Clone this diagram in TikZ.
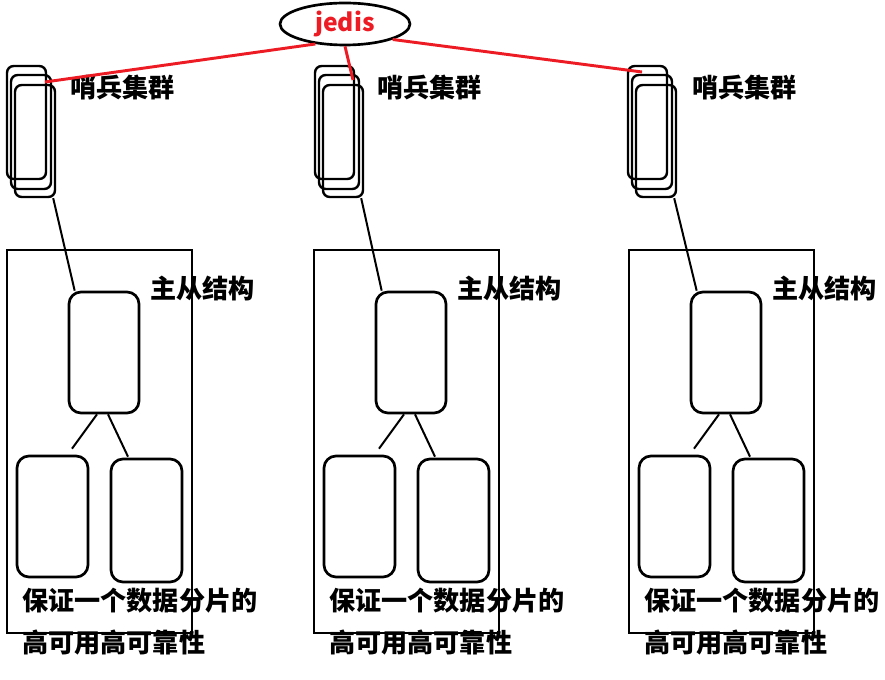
\documentclass[tikz,border=0pt]{standalone}
\usepackage{fontspec}
\newfontfamily\cjk{Noto Sans CJK SC}
\usetikzlibrary{shapes.geometric,calc}
\definecolor{pred}{RGB}{237,28,36}
\tikzset{
  box/.style={draw, line width=2pt, rounded corners=9pt, inner sep=0pt},
  sent/.style={draw, line width=1.8pt, rounded corners=5pt},
  conn/.style={line width=1.5pt},
  rconn/.style={draw=pred, line width=2.2pt},
  lbl/.style={font=\cjk\bfseries\fontsize{19.6}{22}\selectfont, anchor=west, inner sep=0pt},
}
\begin{document}
\begin{tikzpicture}[x=0.75pt,y=-0.75pt]
\useasboundingbox (0,0) rectangle (885,680);
% jedis
\node[ellipse, draw, line width=2pt, minimum width=97.5pt, minimum height=31.5pt, inner sep=0pt,
      text=pred, font=\cjk\bfseries\fontsize{18.5}{20}\selectfont] (jedis) at (345,24) {jedis};
\foreach \o/\s/\n in {0/0/a, 307/308/b, 622/621/c}{
  % sentinel cluster
  \draw[sent] (7+\s,66) rectangle (46+\s,179);
  \draw[sent] (11+\s,75) rectangle (51+\s,189);
  \node[sent, inner sep=0pt, minimum width=30pt, minimum height=84pt] (sen\n) at (35+\s,141) {};
  \node[lbl] at (70+\o,88) {哨兵集群};
  % outer rectangle
  \node[draw, line width=2pt, minimum width=138.75pt, minimum height=287.25pt, inner sep=0pt] (out\n) at (99.5+\o,441.5) {};
  % master / slaves
  \node[box, minimum width=52.5pt, minimum height=90.75pt] (m\n) at (104+\o,352.5) {};
  \node[box, minimum width=53.25pt, minimum height=90.75pt] (sl\n) at (52.5+\o,516.5) {};
  \node[box, minimum width=53.25pt, minimum height=92.25pt] (sr\n) at (146.5+\o,520.5) {};
  \draw[conn] ($(sen\n.south east)+(-3,0)$) -- ($(m\n.north west)+(7,0)$);
  \draw[conn] ($(m\n.south)+(-7,0)$) -- ($(sl\n.north)+(19.5,-6)$);
  \draw[conn] ($(m\n.south)+(4,0)$) -- ($(sr\n.north)+(-18.5,-1)$);
  \node[lbl] at (150+\o,289) {主从结构};
  \node[lbl] at (22+\o,601) {保证一个数据分片的};
  \node[lbl] at (22+\o,643) {高可用高可靠性};
}
\coordinate (ea) at (45,82);
\coordinate (eb) at (353,80);
\coordinate (ec) at (642,72);
\draw[rconn] (jedis.214) -- (ea);
\draw[rconn] (jedis.270) -- (eb);
\draw[rconn] (jedis.342) -- (ec);
\end{tikzpicture}
\end{document}
